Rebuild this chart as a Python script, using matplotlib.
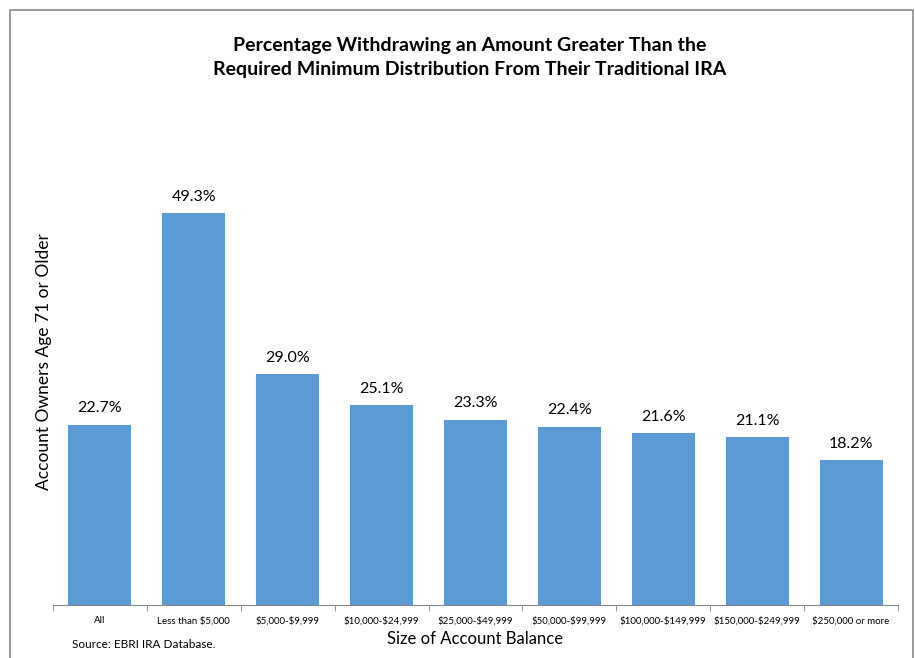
import numpy as np
import matplotlib.pyplot as plt
from matplotlib.patches import Rectangle

# Data
categories = ["All", "Less than $5,000", "$5,000-$9,999", "$10,000-$24,999",
              "$25,000-$49,999", "$50,000-$99,999", "$100,000-$149,999",
              "$150,000-$249,999", "$250,000 or more"]
values = [22.7, 49.3, 29.0, 25.1, 23.3, 22.4, 21.6, 21.1, 18.2]

plt.rcParams['font.family'] = ['Lato', 'DejaVu Sans']
plt.rcParams['text.parse_math'] = False  # keep the $ signs literal

fig = plt.figure(figsize=(9.15, 6.58), dpi=100)
W, H = 915, 658

# outer chart border (no bottom edge visible)
fig.patches.append(Rectangle((10 / W, -0.05), 903 / W, 1.05 - 10 / H,
                             transform=fig.transFigure, fill=False,
                             edgecolor='#8c8c8c', linewidth=1.2))

ax = fig.add_axes([53 / W, 53 / H, 845 / W, (605 - 128) / H])
x = np.arange(len(categories))
bars = ax.bar(x, values, width=0.67, color='#5B9BD5')

ax.set_xlim(-0.5, len(categories) - 0.5)
ax.set_ylim(0, 60)

for xi, v in zip(x, values):
    ax.text(xi, v + 1.2, f"{v:.1f}%", ha='center', va='bottom', fontsize=11.5)

for s in ['top', 'right', 'left']:
    ax.spines[s].set_visible(False)
ax.spines['bottom'].set_color('#868686')
ax.set_yticks([])

ax.set_xticks(x)
ax.set_xticklabels(categories, fontsize=7)
ax.tick_params(axis='x', length=0, pad=8)
ax.set_xticks(np.arange(-0.5, len(categories)), minor=True)
ax.tick_params(axis='x', which='minor', length=4, color='#868686')

ax.set_xlabel("Size of Account Balance", fontsize=12, labelpad=4)
ax.set_ylabel("Account Owners Age 71 or Older", fontsize=12.5)
ax.yaxis.set_label_coords(-1 / 845, 0.51)

fig.text(470 / W, 1 - 58 / H,
         "Percentage Withdrawing an Amount Greater Than the\n"
         "Required Minimum Distribution From Their Traditional IRA",
         ha='center', va='center', fontsize=14, fontweight='bold',
         linespacing=1.5)

fig.text(72 / W, 1 - 645 / H, "Source: EBRI IRA Database.", fontsize=8.5,
         ha='left', va='center')

fig.savefig("out.png", dpi=100)
